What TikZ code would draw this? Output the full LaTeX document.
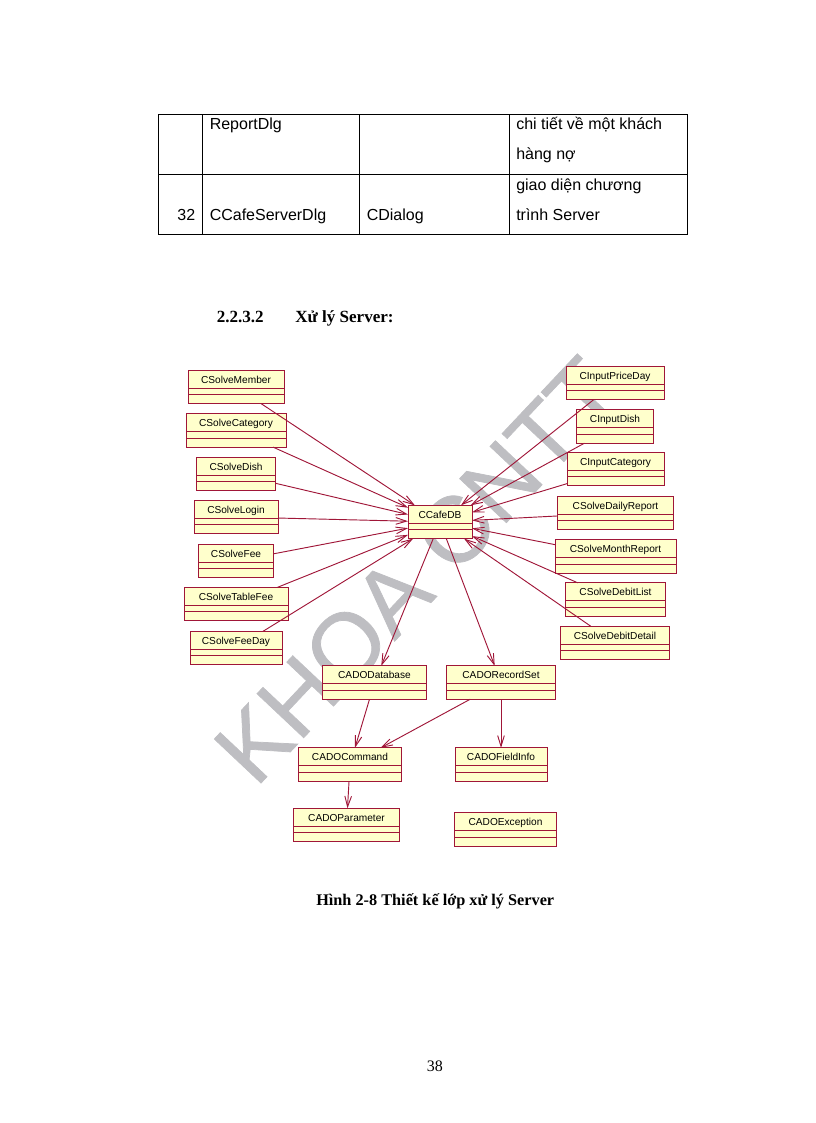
\documentclass[tikz,border=0pt]{standalone}
\usepackage{fontspec}
\setmainfont{Liberation Sans}
\newfontfamily\bookfont{Liberation Serif}
\newfontfamily\markfont[FakeBold=0.8]{Liberation Sans}
\usetikzlibrary{arrows.meta}
\definecolor{classred}{RGB}{160,22,56}
\definecolor{classyellow}{RGB}{255,255,204}
\definecolor{markgray}{RGB}{190,190,194}
\tikzset{
    classbox/.style = {rectangle, draw=classred, line width=0.7pt, fill=classyellow, inner xsep=0pt, inner ysep=0pt, outer sep=0pt,
        text height=9.75pt, text depth=15.25pt, font=\fontsize{7.6pt}{9pt}\selectfont, text=black,
        path picture={
            \draw[classred,line width=0.65pt] ([yshift=-13.5pt]path picture bounding box.north west) -- ([yshift=-13.5pt]path picture bounding box.north east);
            \draw[classred,line width=0.65pt] ([yshift=-18.4pt]path picture bounding box.north west) -- ([yshift=-18.4pt]path picture bounding box.north east);
        }},
    cellbox/.style = {rectangle, draw=black, line width=0.6pt, anchor=north west, inner sep=0pt, outer sep=0pt},
    celltext/.style = {anchor=base west, inner sep=0pt, font=\fontsize{12pt}{14pt}\selectfont},
    headtext/.style = {anchor=base west, inner sep=0pt, font=\bookfont\bfseries\fontsize{12.8pt}{15pt}\selectfont},
    captext/.style = {anchor=base west, inner sep=0pt, font=\bookfont\bfseries\fontsize{12.2pt}{15pt}\selectfont},
    marktext/.style = {anchor=base west, inner sep=0pt, rotate=46.7, text=markgray, font=\markfont\fontsize{70pt}{70pt}\selectfont},
    edged/.style = {-{Straight Barb[length=8pt,width=5pt]},line width=0.7pt,classred},
}
\begin{document}
\begin{tikzpicture}[x=0.75pt,y=-0.75pt]
\useasboundingbox (0,0) rectangle (816,1123);
%
\node[marktext] at (255.6,788.8) (mark) {KHOA CNTT};
%
\node[cellbox, minimum width=33.4pt, minimum height=45pt] at (158,114) (c11) {};
\node[cellbox, minimum width=117.8pt, minimum height=45pt] at (202.5,114) (c12) {};
\node[cellbox, minimum width=112.2pt, minimum height=45pt] at (359.5,114) (c13) {};
\node[cellbox, minimum width=133.5pt, minimum height=45pt] at (509,114) (c14) {};
\node[cellbox, minimum width=33.4pt, minimum height=45pt] at (158,174) (c21) {};
\node[cellbox, minimum width=117.8pt, minimum height=45pt] at (202.5,174) (c22) {};
\node[cellbox, minimum width=112.2pt, minimum height=45pt] at (359.5,174) (c23) {};
\node[cellbox, minimum width=133.5pt, minimum height=45pt] at (509,174) (c24) {};
%
\node[celltext] at (209.5,130) (report) {ReportDlg};
\node[celltext] at (516,130) (detail1) {chi tiết về một khách};
\node[celltext] at (516,160) (detail2) {hàng nợ};
\node[celltext] at (516,191) (ui1) {giao diện chương};
\node[celltext] at (516,221) (ui2) {trình Server};
\node[celltext, anchor=base east] at (195.5,221) (num) {32};
\node[celltext] at (209.5,221) (server) {CCafeServerDlg};
\node[celltext] at (366.5,221) (dialog) {CDialog};
%
\node[headtext] at (216.5,322.5) (secnum) {2.2.3.2};
\node[headtext] at (295,322.5) (sectitle) {Xử lý Server:};
\node[captext] at (316,905) (caption) {Hình 2-8 Thiết kế lớp xử lý Server};
\node[anchor=base west, inner sep=0pt, font=\bookfont\fontsize{12pt}{14pt}\selectfont] at (426.5,1071) (page) {38};
%
\node[classbox, minimum width=72pt] at (236,387) (member) {CSolveMember};
\node[classbox, minimum width=75pt] at (236,430.5) (category) {CSolveCategory};
\node[classbox, minimum width=59.3pt] at (236,474) (dish) {CSolveDish};
\node[classbox, minimum width=63pt] at (236,517) (login) {CSolveLogin};
\node[classbox, minimum width=56.6pt] at (236,561) (fee) {CSolveFee};
\node[classbox, minimum width=78pt] at (236,604) (tablefee) {CSolveTableFee};
\node[classbox, minimum width=69pt] at (236,648) (feeday) {CSolveFeeDay};
\node[classbox, minimum width=48pt] at (440,522) (cafedb) {CCafeDB};
\node[classbox, minimum width=73.5pt] at (615,382.7) (priceday) {CInputPriceDay};
\node[classbox, minimum width=57.8pt] at (615,426.5) (inputdish) {CInputDish};
\node[classbox, minimum width=72.8pt] at (615.5,469) (inputcat) {CInputCategory};
\node[classbox, minimum width=87.5pt] at (615.5,513) (daily) {CSolveDailyReport};
\node[classbox, minimum width=90.8pt] at (615.5,556.5) (month) {CSolveMonthReport};
\node[classbox, minimum width=75.5pt] at (615.5,599.5) (debitlist) {CSolveDebitList};
\node[classbox, minimum width=82.3pt] at (615,643) (debitdetail) {CSolveDebitDetail};
\node[classbox, minimum width=78.5pt] at (374.5,682.5) (database) {CADODatabase};
\node[classbox, minimum width=81.8pt] at (501,682.5) (recordset) {CADORecordSet};
\node[classbox, minimum width=77pt] at (350,764.5) (command) {CADOCommand};
\node[classbox, minimum width=69pt] at (501,764.5) (fieldinfo) {CADOFieldInfo};
\node[classbox, minimum width=80pt] at (346.5,825) (parameter) {CADOParameter};
\node[classbox, minimum width=77pt] at (505.5,829.5) (exception) {CADOException};
%
\draw[edged] (member) -- (cafedb);
\draw[edged] (category) -- (cafedb);
\draw[edged] (dish) -- (cafedb);
\draw[edged] (login) -- (cafedb);
\draw[edged] (fee) -- (cafedb);
\draw[edged] (tablefee) -- (cafedb);
\draw[edged] (feeday) -- (cafedb);
\draw[edged] (priceday) -- (cafedb);
\draw[edged] (inputdish) -- (cafedb);
\draw[edged] (inputcat) -- (cafedb);
\draw[edged] (daily) -- (cafedb);
\draw[edged] (month) -- (cafedb);
\draw[edged] (debitlist) -- (cafedb);
\draw[edged] (debitdetail) -- (cafedb);
\draw[edged] (cafedb) -- (database);
\draw[edged] (cafedb) -- (recordset);
\draw[edged] (database) -- (command);
\draw[edged] (recordset) -- (command);
\draw[edged] (recordset) -- (fieldinfo);
\draw[edged] (command) -- (parameter);
\end{tikzpicture}
\end{document}
